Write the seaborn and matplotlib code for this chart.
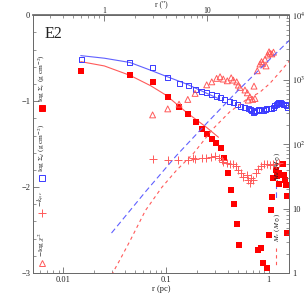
import numpy as np
import pandas as pd
import seaborn as sns
import matplotlib
matplotlib.use("Agg")
import matplotlib.pyplot as plt
from matplotlib.ticker import (FixedLocator, FixedFormatter, LogLocator,
                               MultipleLocator, NullFormatter, FuncFormatter)

# ---- values (r in pc) ----
# log Sigma_d, blue open squares
r_sig_d = [0.0149, 0.0446, 0.0741, 0.104, 0.134, 0.165, 0.193, 0.223, 0.249,
           0.279, 0.311, 0.341, 0.375, 0.413, 0.452, 0.494, 0.533, 0.578,
           0.632, 0.660, 0.682, 0.708, 0.735, 0.764, 0.790, 0.822, 0.850,
           0.885, 0.920, 0.957, 0.990, 1.03, 1.07, 1.11, 1.15, 1.18, 1.21,
           1.24, 1.29, 1.34, 1.39, 1.44, 1.48, 1.52]
log_sig_d = [-0.52, -0.55, -0.61, -0.72, -0.79, -0.82, -0.86, -0.89, -0.90,
             -0.92, -0.94, -0.96, -0.98, -1.00, -1.02, -1.04, -1.06, -1.07,
             -1.09, -1.10, -1.11, -1.13, -1.12, -1.11, -1.10, -1.10, -1.11,
             -1.11, -1.10, -1.09, -1.09, -1.09, -1.08, -1.07, -1.05, -1.04,
             -1.03, -1.02, -1.02, -1.03, -1.04, -1.04, -1.05, -1.07]

# log Sigma_c, red filled squares
r_sig_c = [0.0149, 0.0446, 0.0741, 0.104, 0.134, 0.165, 0.195, 0.223, 0.252,
           0.283, 0.307, 0.341, 0.370, 0.399, 0.427, 0.459, 0.488, 0.518,
           0.782, 0.836, 0.875, 0.957, 1.014, 1.052, 1.084, 1.109, 1.164,
           1.213, 1.250, 1.271, 1.309, 1.368, 1.419, 1.442, 1.466, 1.496,
           1.517]
log_sig_c = [-0.65, -0.70, -0.78, -0.95, -1.07, -1.15, -1.24, -1.32, -1.38,
             -1.435, -1.49, -1.545, -1.657, -1.837, -2.03, -2.20, -2.43, -2.68,
             -2.73, -2.71, -2.88, -2.94, -2.56, -2.27, -2.12, -1.90, -1.80,
             -1.875, -1.84, -1.97, -1.86, -1.73, -1.86, -1.92, -1.98, -2.10,
             -2.54]

# model fits (solid lines)
r_fit = [0.0148, 0.0251, 0.0447, 0.0708, 0.100, 0.158, 0.251, 0.324]
fit_d = [-0.47, -0.50, -0.55, -0.64, -0.71, -0.80, -0.91, -0.97]
fit_c = [-0.54, -0.59, -0.70, -0.82, -0.93, -1.13, -1.31, -1.42]

# -k_rho,c, red pluses
r_k = [0.0741, 0.104, 0.132, 0.163, 0.182, 0.192, 0.223, 0.245, 0.272, 0.300,
       0.328, 0.347, 0.361, 0.390, 0.420, 0.446, 0.481, 0.506, 0.537, 0.566,
       0.611, 0.632, 0.656, 0.667, 0.708, 0.751, 0.793, 0.841, 0.900, 0.968,
       1.028, 1.096, 1.178, 1.259]
neg_k = [-1.67, -1.69, -1.69, -1.69, -1.66, -1.67, -1.66, -1.66, -1.65, -1.64,
         -1.66, -1.68, -1.71, -1.72, -1.73, -1.735, -1.76, -1.80, -1.84, -1.88,
         -1.86, -1.92, -1.95, -1.90, -1.92, -1.84, -1.785, -1.75, -1.735,
         -1.727, -1.747, -1.73, -1.735, -1.72]

# -log chi^2, red open triangles
r_chi = [0.0741, 0.104, 0.134, 0.163, 0.192, 0.249, 0.279, 0.311, 0.336,
         0.361, 0.395, 0.431, 0.452, 0.488, 0.506, 0.525, 0.587, 0.619, 0.631,
         0.656, 0.697, 0.719, 0.735, 0.774, 0.822, 0.851, 0.873, 0.920, 0.942,
         0.977, 1.007, 1.030, 1.072, 1.112]
neg_chi = [-1.16, -1.09, -1.035, -0.98, -0.91, -0.81, -0.775, -0.735, -0.716,
           -0.743, -0.763, -0.728, -0.755, -0.775, -0.813, -0.84, -0.87, -0.903,
           -0.988, -0.95, -0.98, -0.825, -0.969, -0.646, -0.568, -0.54, -0.56,
           -0.513, -0.59, -0.463, -0.425, -0.443, -0.45, -0.43]

# cumulative masses, log10(M / Msun) on the right axis (dashed)
r_md = [0.0295, 0.0631, 0.126, 0.251, 0.501, 1.0, 1.585]
logm_d = [0.62, 1.26, 1.82, 2.33, 2.83, 3.30, 3.61]
r_mc = [0.0275, 0.0355, 0.0447, 0.0631, 0.0912, 0.126, 0.186, 0.288, 0.417,
        0.617, 0.813, 1.023, 1.288, 1.585]
logm_c = [-0.12, 0.20, 0.50, 0.97, 1.33, 1.59, 1.86, 2.24, 2.50, 2.70, 2.80,
          2.94, 3.12, 3.29]

PC_PER_ARCSEC = 0.025

BLUE = "#3a3aff"
BLUE_L = "#6060ff"
RED = "#ff0000"
RED_L = "#ff5a5a"
GREY = "#6a6a6a"
INK = "#222222"

sns.set_theme(style="ticks")
plt.rcParams["font.family"] = ["Liberation Serif", "DejaVu Serif"]
plt.rcParams["mathtext.fontset"] = "stix"
plt.rcParams["axes.edgecolor"] = GREY
plt.rcParams["xtick.color"] = GREY
plt.rcParams["ytick.color"] = GREY
plt.rcParams["xtick.labelcolor"] = INK
plt.rcParams["ytick.labelcolor"] = INK

fig = plt.figure(figsize=(3.05, 3.05), dpi=100)
ax = fig.add_axes([0.108, 0.105, 0.840, 0.845])
ax2 = ax.twinx()

# left-axis quantities
sns.lineplot(x=r_fit, y=fit_d, ax=ax, color=BLUE_L, lw=0.8, sort=False, estimator=None)
sns.lineplot(x=r_fit, y=fit_c, ax=ax, color=RED_L, lw=0.8, sort=False, estimator=None)
sns.scatterplot(x=r_sig_d, y=log_sig_d, ax=ax, marker="s", s=13,
                facecolor="none", edgecolor=BLUE, linewidth=0.7, zorder=3)
sns.scatterplot(x=r_sig_c, y=log_sig_c, ax=ax, marker="s", s=14,
                color=RED, edgecolor=RED, linewidth=0, zorder=3)
sns.scatterplot(x=r_chi, y=neg_chi, ax=ax, marker="^", s=18,
                facecolor="none", edgecolor=RED_L, linewidth=0.7, zorder=3)
sns.scatterplot(x=r_k, y=neg_k, ax=ax, marker="+", s=30,
                color=RED_L, linewidth=0.7, zorder=3)

# right-axis masses
sns.lineplot(x=r_md, y=10 ** np.array(logm_d), ax=ax2, color=BLUE_L, lw=0.8,
             linestyle=(0, (5, 3)), sort=False, estimator=None)
sns.lineplot(x=r_mc, y=10 ** np.array(logm_c), ax=ax2, color=RED_L, lw=0.8,
             linestyle=(0, (3, 3)), sort=False, estimator=None)

# axes setup
ax.set_xscale("log")
ax.set_xlim(0.00507, 1.58)
ax.set_ylim(-3, 0)
ax.yaxis.set_major_locator(MultipleLocator(1))
ax.yaxis.set_minor_locator(MultipleLocator(0.2))
ax.xaxis.set_major_locator(FixedLocator([0.01, 0.1, 1]))
ax.xaxis.set_major_formatter(FuncFormatter(lambda v, p: "%g" % v))
ax.xaxis.set_minor_locator(LogLocator(subs=np.arange(2, 10)))
ax.xaxis.set_minor_formatter(NullFormatter())
ax.tick_params(which="both", direction="in", labelsize=6, top=False, right=False, pad=2)
ax.tick_params(which="major", length=4, width=0.6)
ax.tick_params(which="minor", length=2, width=0.5)
ax.set_xlabel("r (pc)", fontsize=6, labelpad=1, color=INK)
ax.set_ylabel("")

ax2.set_yscale("log")
ax2.set_ylim(1, 1e4)
ax2.set_xlim(0.00507, 1.58)
ax2.yaxis.set_major_locator(FixedLocator([1, 10, 100, 1000, 10000]))
ax2.yaxis.set_major_formatter(FixedFormatter(["1", "10", "$10^2$", "$10^3$", "$10^4$"]))
ax2.yaxis.set_minor_locator(LogLocator(subs=np.arange(2, 10)))
ax2.yaxis.set_minor_formatter(NullFormatter())
ax2.tick_params(which="both", direction="in", labelsize=6, pad=2)
ax2.tick_params(which="major", length=4, width=0.6)
ax2.tick_params(which="minor", length=2, width=0.5)
ax2.set_ylabel("")

top = ax.secondary_xaxis("top", functions=(lambda x: x / PC_PER_ARCSEC,
                                           lambda x: x * PC_PER_ARCSEC))
top.xaxis.set_major_locator(FixedLocator([1, 10]))
top.xaxis.set_major_formatter(FuncFormatter(lambda v, p: "%g" % v))
top.xaxis.set_minor_locator(LogLocator(subs=np.arange(2, 10)))
top.xaxis.set_minor_formatter(NullFormatter())
top.tick_params(which="both", direction="in", labelsize=5.5, pad=0.5)
top.tick_params(which="major", length=4, width=0.6)
top.tick_params(which="minor", length=2, width=0.5)
top.set_xlabel('r (")', fontsize=5.5, labelpad=0, color=INK)

# panel name
ax.text(0.045, 0.958, "E2", transform=ax.transAxes, ha="left", va="top",
        fontsize=11.5, color=INK)

# vertical key on the left
key = [
    (0.640, "s", RED, RED, r"log $\Sigma_c$ (g cm$^{-2}$)"),
    (0.369, "s", "none", BLUE, r"log $\Sigma_d$ (g cm$^{-2}$)"),
    (0.233, "+", RED_L, RED_L, r"$-k_{\rho,c}$"),
    (0.039, "^", "none", RED_L, r"$-$log $\chi^2$"),
]
for ypos, mk, fc, ec, label in key:
    ax.plot([0.034], [ypos], marker=mk, ms=3.8 if mk != "+" else 5.5,
            mfc=fc, mec=ec, mew=0.7, color=ec, ls="none",
            transform=ax.transAxes, clip_on=False)
    ax.text(0.034, ypos + 0.022, label, transform=ax.transAxes, rotation=90,
            ha="center", va="bottom", fontsize=5.3, color=INK)

# key for the dashed mass curves
ax.plot([0.948, 0.948], [0.349, 0.287], transform=ax.transAxes,
        color=BLUE_L, lw=0.8, ls=(0, (5, 3)))
ax.text(0.951, 0.358, r"$M_d$ ($M_\odot$)", transform=ax.transAxes, rotation=90,
        ha="center", va="bottom", fontsize=5.3, color=INK)
ax.plot([0.948, 0.948], [0.097, 0.028], transform=ax.transAxes,
        color=RED_L, lw=0.8, ls=(0, (3, 3)))
ax.text(0.951, 0.12, r"$M_c$ ($M_\odot$)", transform=ax.transAxes, rotation=90,
        ha="center", va="bottom", fontsize=5.3, color=INK)

for sp in ax.spines.values():
    sp.set_linewidth(0.7)
for sp in ax2.spines.values():
    sp.set_linewidth(0.7)

fig.savefig("out.png", dpi=100)
plt.close(fig)
